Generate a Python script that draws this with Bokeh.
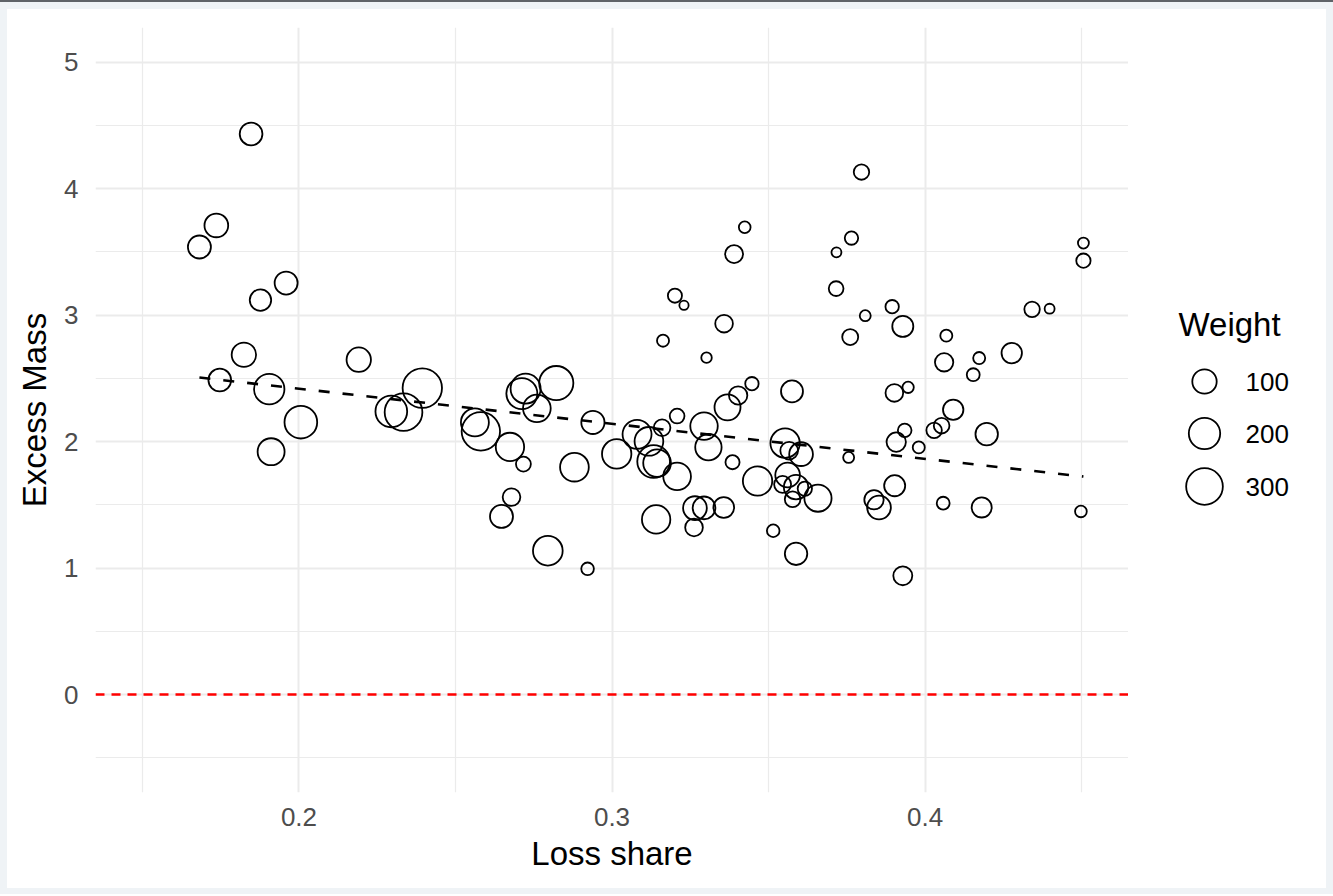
import numpy as np
from bokeh.plotting import figure
from bokeh.models import Range1d, FixedTicker, ColumnDataSource, Span
from bokeh.layouts import row, column
from bokeh.embed import file_html
from bokeh.resources import INLINE
from bokeh.core.properties import value

# Observations: loss share, excess mass and regression weight
loss_share = [
    0.1682, 0.1736, 0.1847, 0.1959, 0.1877, 0.1824, 0.2191, 0.1747, 0.1905, 0.2006,
    0.1911, 0.2295, 0.2334, 0.2394, 0.2562, 0.2581, 0.2674, 0.2717, 0.2712, 0.2724,
    0.2760, 0.2822, 0.2939, 0.2880, 0.2679, 0.2647, 0.2795, 0.2922, 0.3015, 0.3080,
    0.3118, 0.3160, 0.3208, 0.3133, 0.3144, 0.3208, 0.3294, 0.3308, 0.3369, 0.3403,
    0.3447, 0.3385, 0.3575, 0.3553, 0.3566, 0.3604, 0.3465, 0.3561, 0.3545, 0.3588,
    0.3616, 0.3577, 0.3658, 0.3515, 0.3588, 0.3141, 0.3265, 0.3294, 0.3357, 0.3262,
    0.3424, 0.3390, 0.3201, 0.3230, 0.3358, 0.3163, 0.3302, 0.3717, 0.3765, 0.3716,
    0.3761, 0.3797, 0.3809, 0.3895, 0.3929, 0.4068, 0.4061, 0.4173, 0.4154, 0.4277,
    0.4342, 0.4398, 0.4506, 0.4506, 0.3902, 0.3946, 0.4090, 0.3935, 0.4029, 0.4053,
    0.4197, 0.3908, 0.3980, 0.3756, 0.3903, 0.3837, 0.3853, 0.4058, 0.4181, 0.4498,
    0.3929,
]
excess_mass = [
    3.539, 3.710, 4.433, 3.254, 3.119, 2.687, 2.648, 2.487, 2.415, 2.154,
    1.920, 2.239, 2.233, 2.423, 2.152, 2.081, 1.958, 1.822, 2.380, 2.419,
    2.263, 2.463, 2.152, 1.798, 1.561, 1.408, 1.137, 0.994, 1.903, 2.058,
    2.002, 2.110, 2.202, 1.843, 1.830, 1.725, 2.123, 1.956, 2.271, 2.365,
    2.458, 1.837, 2.397, 1.988, 1.928, 1.901, 1.688, 1.736, 1.662, 1.640,
    1.627, 1.544, 1.553, 1.295, 1.113, 1.385, 1.474, 1.476, 1.479, 1.321,
    3.695, 3.483, 3.154, 3.078, 2.933, 2.798, 2.664, 3.497, 3.610, 3.210,
    2.827, 4.132, 2.996, 3.067, 2.911, 2.838, 2.627, 2.661, 2.529, 2.700,
    3.046, 3.051, 3.570, 3.431, 2.385, 2.429, 2.252, 2.089, 2.089, 2.126,
    2.059, 1.996, 1.954, 1.875, 1.651, 1.540, 1.479, 1.513, 1.479, 1.448,
    0.939,
]
weight = [
    84, 92, 81, 84, 68, 100, 100, 81, 184, 223,
    133, 206, 321, 358, 147, 336, 153, 19, 194, 178,
    143, 250, 86, 158, 36, 84, 173, 9, 168, 162,
    158, 29, 18, 223, 143, 143, 140, 125, 120, 41,
    12, 15, 73, 168, 36, 92, 168, 103, 31, 100,
    16, 23, 136, 9, 78, 153, 92, 81, 61, 36,
    6, 38, 15, 1, 36, 7, 3, 2, 12, 18,
    25, 22, 4, 12, 64, 7, 41, 7, 10, 58,
    22, 2, 4, 16, 36, 5, 58, 13, 22, 23,
    78, 49, 7, 4, 64, 49, 92, 10, 55, 6,
    46,
]

# Weighted linear fit: excess_mass = intercept + slope * loss_share
fit_intercept = 2.973
fit_slope = -2.773

reference_level = 0.0

legend_weights = [100, 200, 300]
legend_labels = ["100", "200", "300"]

x_ticks = [0.2, 0.3, 0.4]
x_minor = [0.15, 0.25, 0.35, 0.45]
y_ticks = [0, 1, 2, 3, 4, 5]
y_minor = [-0.5, 0.5, 1.5, 2.5, 3.5, 4.5]

FONT = "Liberation Sans"
GRID = "#EBEBEB"


def marker_size(w):
    # area-style size scale: diameter grows with sqrt(weight)
    return 7.6 + 1.68 * np.sqrt(np.asarray(w, dtype=float))


src = ColumnDataSource(dict(x=loss_share, y=excess_mass, w=weight,
                            size=marker_size(weight)))

p = figure(width=1121, height=879,
           x_range=Range1d(0.135, 0.465), y_range=Range1d(-0.775, 5.275),
           output_backend="svg", toolbar_location=None,
           min_border_left=88, min_border_right=0,
           min_border_top=18, min_border_bottom=96)
p.outline_line_color = None
p.background_fill_color = "white"
p.border_fill_color = "white"

p.xaxis.ticker = FixedTicker(ticks=x_ticks, minor_ticks=x_minor)
p.yaxis.ticker = FixedTicker(ticks=y_ticks, minor_ticks=y_minor)
p.xaxis.major_label_overrides = {t: f"{t:.1f}" for t in x_ticks}

for ax in (p.xaxis[0], p.yaxis[0]):
    ax.axis_line_color = None
    ax.major_tick_line_color = None
    ax.minor_tick_line_color = None
    ax.major_tick_out = 0
    ax.major_tick_in = 0
    ax.major_label_text_font = FONT
    ax.major_label_text_font_size = "26px"
    ax.major_label_text_color = "#4D4D4D"
    ax.axis_label_text_font = FONT
    ax.axis_label_text_font_size = "33px"
    ax.axis_label_text_font_style = "normal"
    ax.axis_label_text_color = "black"

p.xaxis.axis_label = "Loss share"
p.yaxis.axis_label = "Excess Mass"
p.xaxis.major_label_standoff = 11
p.xaxis.axis_label_standoff = 6
p.yaxis.major_label_standoff = 13
p.yaxis.axis_label_standoff = 8

for g in (p.xgrid[0], p.ygrid[0]):
    g.grid_line_color = GRID
    g.grid_line_width = 2
    g.minor_grid_line_color = GRID
    g.minor_grid_line_width = 1.2

p.add_layout(Span(location=reference_level, dimension="width",
                  line_color="red", line_width=2.6, line_dash="9 7"))

xs = np.array([min(loss_share), max(loss_share)])
p.line(xs, fit_intercept + fit_slope * xs, line_color="black",
       line_width=2.6, line_dash="11 13")

p.scatter("x", "y", size="size", source=src, marker="circle",
          fill_color=None, line_color="black", line_width=1.8)

# Size legend panel; its frame lines up with the main frame, and its
# ranges are expressed in page pixels (y pointing down)
leg = figure(width=198, height=879, x_range=Range1d(1128, 1326),
             y_range=Range1d(792, 27), output_backend="svg",
             toolbar_location=None, min_border=0)
leg.axis.visible = False
leg.grid.visible = False
leg.outline_line_color = None
leg.border_fill_color = "white"
leg.background_fill_color = "white"

leg_y = [381, 433, 486]
leg.text(x=[1178], y=[324], text=["Weight"], text_font=value(FONT),
         text_font_size="33px", text_baseline="middle", text_align="left",
         text_color="black")
leg.scatter(x=[1204] * 3, y=leg_y, size=marker_size(legend_weights),
            marker="circle", fill_color=None, line_color="black", line_width=1.8)
leg.text(x=[1245] * 3, y=leg_y, text=legend_labels, text_font=value(FONT),
         text_font_size="26px", text_baseline="middle", text_align="left",
         text_color="black")

inner = row(p, leg, margin=(7, 7, 8, 7), styles={"background-color": "white"})
page = column(inner, width=1333, height=894,
              styles={"background-color": "#EFF3F6",
                      "border-top": "2px solid #5F6368"})

open("out.html", "w").write(file_html(page, INLINE))
